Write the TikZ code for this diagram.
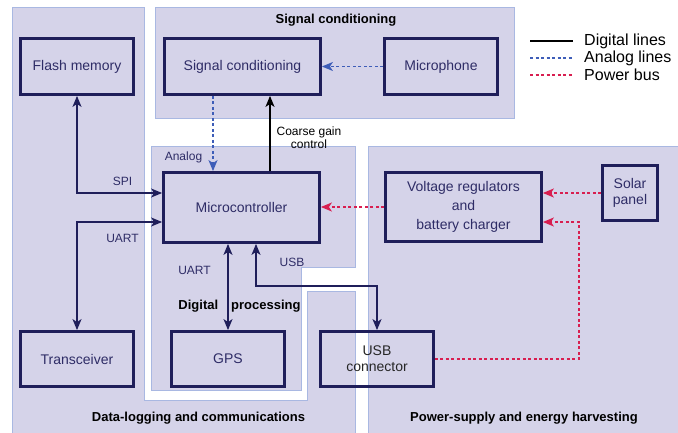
\documentclass[tikz,border=0pt]{standalone}
\usepackage{fontspec}
\setmainfont{Liberation Sans}
\usepackage{tikz}
\usetikzlibrary{arrows.meta,calc}
\definecolor{RegionFill}{HTML}{D5D3E9}
\definecolor{RegionEdge}{HTML}{A9B8E2}
\definecolor{DeepNavy}{HTML}{1F1E5A}
\definecolor{TextNavy}{HTML}{2E2C66}
\definecolor{AnalogBlue}{HTML}{3E5DB8}
\definecolor{PowerRed}{HTML}{D81E50}

\begin{document}
\begin{tikzpicture}[x=1pt,y=-1pt,>={Stealth[length=11pt,width=9pt,inset=3pt]},
  region/.style={fill=RegionFill,draw=RegionEdge,line width=0.8pt},
  block/.style={draw=DeepNavy,line width=2.8pt,text=TextNavy,align=center,
    font=\fontsize{14}{16}\selectfont,inner sep=0pt},
  tag/.style={text=TextNavy,align=center,font=\fontsize{12}{13.5}\selectfont,inner sep=0pt},
  area/.style={font=\bfseries\fontsize{13}{15}\selectfont,inner sep=0pt},
  legendtext/.style={font=\fontsize{16}{18}\selectfont,anchor=west,inner sep=0pt},
  dig/.style={draw=DeepNavy,line width=1.5pt},
  ana/.style={draw=AnalogBlue,line width=1.5pt,dash pattern=on 3pt off 2.5pt},
  pwr/.style={draw=PowerRed,line width=1.5pt,dash pattern=on 3pt off 2.5pt}]

\useasboundingbox (0,0) rectangle (678,432);

% regions
\path[region] (12,7) -- (144,7) -- (144,400) -- (307,400) -- (307,291)
  -- (355,291) -- (355,434) -- (12,434) -- cycle;
\path[region] (151,146) -- (355,146) -- (355,267) -- (301,267) -- (301,390)
  -- (151,390) -- cycle;
\path[region] (155,7) rectangle (514,118);
\path[region] (368,146) rectangle (679,434);

\node[area] (sigarea) at (336,20) {Signal conditioning};
\node[area] (digarea) at (239.5,306) {Digital\hspace{13pt}processing};
\node[area] (logarea) at (198.5,418) {Data-logging and communications};
\node[area] (pwrarea) at (524,418) {Power-supply and energy harvesting};

% blocks
\node[block,minimum width=113pt,minimum height=56pt] (flash) at (77,66.5) {Flash memory};
\node[block,minimum width=156pt,minimum height=56pt] (sigcond) at (242.5,66.5) {Signal conditioning};
\node[block,minimum width=113pt,minimum height=56pt] (mic) at (441,66.5) {Microphone};
\node[block,minimum width=156pt,minimum height=70pt] (mcu) at (241.5,207.5) {Microcontroller};
\node[block,minimum width=156pt,minimum height=69pt,font=\fontsize{14}{19}\selectfont] (vreg) at (463.5,207) {\raisebox{-2pt}{\parbox{150pt}{\centering Voltage regulators\\and\\battery charger}}};
\node[block,minimum width=55pt,minimum height=55pt] (solar) at (630,193) {Solar\\panel};
\node[block,minimum width=113pt,minimum height=55pt] (trans) at (77,359) {Transceiver};
\node[block,minimum width=113pt,minimum height=55pt] (gps) at (228,359) {GPS};
\node[block,minimum width=113pt,minimum height=55pt,text=black!85] (usbc) at (377,359) {USB\\connector};

% digital lines
\draw[dig,<->] (flash.south) |- ([yshift=14.5pt]mcu.west);
\draw[dig,<->] ([yshift=-14.5pt]mcu.west) -| (trans.north);
\draw[dig,<->] (mcu.south -| gps.north) -- (gps.north);
\draw[dig,<->] ([xshift=14.5pt]mcu.south) -- ++(0,42) -| (usbc.north);
\draw[dig,draw=black,->] ([xshift=28.5pt]mcu.north) -- ([xshift=28.5pt]mcu.north |- sigcond.south);

% analog lines
\draw[ana,->] ([xshift=-29.5pt]sigcond.south) -- ([xshift=-29.5pt]sigcond.south |- mcu.north);
\draw[ana,->] (mic.west) -- (sigcond.east);

% power bus
\coordinate (pbend) at (579,222);
\draw[pwr,->] (vreg.west) -- (vreg.west -| mcu.east);
\draw[pwr,->] (solar.west) -- (solar.west -| vreg.east);
\draw[pwr,->] (usbc.east) -| (pbend) -- ([yshift=-15pt]vreg.east);

% line labels
\node[tag] (spi) at (122.5,181) {SPI};
\node[tag] (uart1) at (122.5,238) {UART};
\node[tag] (uart2) at (194.5,270) {UART};
\node[tag] (usb) at (292,262) {USB};
\node[tag] (analog) at (183.5,157) {Analog};
\node[tag,text=black,font=\fontsize{12}{13}\selectfont] (gain) at (309,137.5) {Coarse gain\\control};

% legend
\node[legendtext] (lgdig) at (584,41) {Digital lines};
\node[legendtext] (lgana) at (584,58) {Analog lines};
\node[legendtext] (lgpwr) at (584,75) {Power bus};
\draw[black,line width=1.8pt] ([xshift=-54pt]lgdig.west) -- ([xshift=-11pt]lgdig.west);
\draw[AnalogBlue,line width=1.6pt,dash pattern=on 3pt off 2.5pt] ([xshift=-54pt]lgana.west) -- ([xshift=-11pt]lgana.west);
\draw[PowerRed,line width=1.6pt,dash pattern=on 3pt off 2.5pt] ([xshift=-54pt]lgpwr.west) -- ([xshift=-11pt]lgpwr.west);
\end{tikzpicture}
\end{document}
